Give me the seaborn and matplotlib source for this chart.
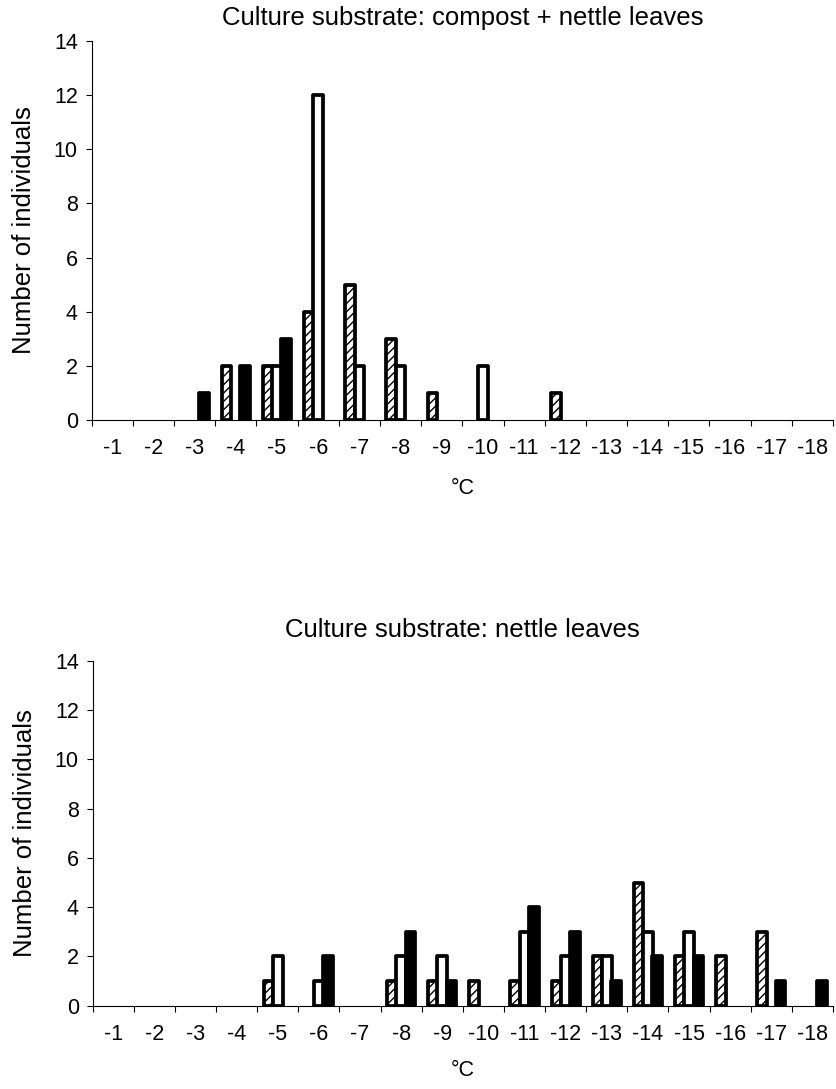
import numpy as np
import pandas as pd
import seaborn as sns
import matplotlib
matplotlib.use("Agg")
import matplotlib.pyplot as plt

# ---------------- data ----------------
categories = [f"-{i}" for i in range(1, 19)]          # temperature classes (°C)
top_title = "Culture substrate: compost + nettle leaves"
bot_title = "Culture substrate: nettle leaves"

top_hatched = [0, 0, 0, 2, 2, 4, 5, 3, 1, 0, 0, 1, 0, 0, 0, 0, 0, 0]
top_white   = [0, 0, 0, 0, 2, 12, 2, 2, 0, 2, 0, 0, 0, 0, 0, 0, 0, 0]
top_black   = [0, 0, 1, 2, 3, 0, 0, 0, 0, 0, 0, 0, 0, 0, 0, 0, 0, 0]

bot_hatched = [0, 0, 0, 0, 1, 0, 0, 1, 1, 1, 1, 1, 2, 5, 2, 2, 3, 0]
bot_white   = [0, 0, 0, 0, 2, 1, 0, 2, 2, 0, 3, 2, 2, 3, 3, 0, 0, 0]
bot_black   = [0, 0, 0, 0, 0, 2, 0, 3, 1, 0, 4, 3, 1, 2, 2, 0, 1, 1]

y_ticks = [0, 2, 4, 6, 8, 10, 12, 14]

# ---------------- style ----------------
sns.set_style("ticks")
plt.rcParams["font.family"] = ["Liberation Sans", "DejaVu Sans"]
plt.rcParams["hatch.color"] = "#3a3a3a"
plt.rcParams["hatch.linewidth"] = 1.0
plt.rcParams["axes.edgecolor"] = "black"
plt.rcParams["axes.linewidth"] = 0.8
for key in ["text.color", "axes.labelcolor", "xtick.color", "ytick.color"]:
    plt.rcParams[key] = "black"

W, H = 837, 1089
fig = plt.figure(figsize=(W / 100, H / 100), dpi=100)

TICK_FS = 15.5
LAB_FS = 18.5


def px_axes(left, top, right, bottom):
    return fig.add_axes([left / W, 1 - bottom / H, (right - left) / W, (bottom - top) / H])


ax_top = px_axes(91.7, 41, 833, 420)
ax_bot = px_axes(92.7, 661, 833, 1005.7)

series_styles = [
    dict(color="white", hatch="////"),
    dict(color="white", hatch=None),
    dict(color="black", hatch=None),
]
offset = 0.226
bar_w = 0.235


def draw_panel(ax, series, title, title_y, xlab_y):
    pos = np.arange(1, len(categories) + 1)
    for k, (vals, st) in enumerate(zip(series, series_styles)):
        df = pd.DataFrame({"pos": pos + (k - 1) * offset, "count": vals})
        kws = dict(edgecolor="black", linewidth=2.7)
        if st["hatch"]:
            kws["hatch"] = st["hatch"]
        sns.barplot(data=df, x="pos", y="count", native_scale=True, width=bar_w,
                    color=st["color"], saturation=1, errorbar=None, ax=ax, **kws)
    for p in ax.patches:
        p.set_joinstyle("round")
        if p.get_height() == 0:
            p.set_visible(False)

    ax.set_xlim(0.5, len(categories) + 0.5)
    ax.set_ylim(0, 14)
    ax.set_xticks(np.arange(0.5, len(categories) + 1, 1.0))
    ax.set_xticklabels([])
    ax.set_xticks(pos, minor=True)
    ax.set_xticklabels(categories, minor=True, fontsize=TICK_FS)
    ax.tick_params(axis="x", which="major", direction="out", length=4, width=0.8, color="black")
    ax.tick_params(axis="x", which="minor", length=0, pad=13)
    ax.set_yticks(y_ticks)
    ax.set_yticklabels([str(v) for v in y_ticks], fontsize=TICK_FS)
    ax.tick_params(axis="y", direction="out", length=4, width=0.8, pad=6, color="black")
    sns.despine(ax=ax)

    ax.set_ylabel("Number of individuals", fontsize=LAB_FS)
    ax.yaxis.label.set_va("center")
    ax.yaxis.set_label_coords(-(91.7 - 24) / (833 - 91.7), 0.5)
    ax.set_xlabel("°C", fontsize=TICK_FS)
    ax.xaxis.label.set_va("center")
    ax.xaxis.set_label_coords(0.5, xlab_y)
    ax.set_title(title, fontsize=LAB_FS, y=title_y, va="center", pad=0)


draw_panel(ax_top, [top_hatched, top_white, top_black], top_title,
           1 + 23 / 379, -(489 - 420) / 379)
draw_panel(ax_bot, [bot_hatched, bot_white, bot_black], bot_title,
           1 + 31 / 344.7, -(1071 - 1005.7) / 344.7)

fig.savefig("out.png", dpi=100)
